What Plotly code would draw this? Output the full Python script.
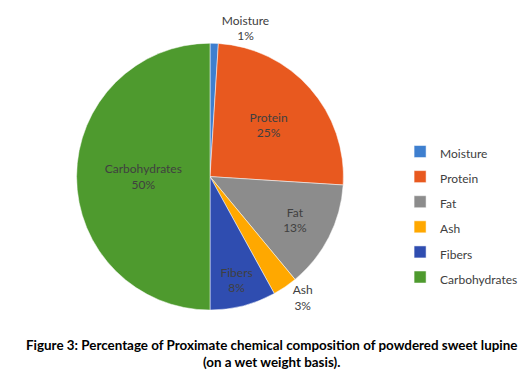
import plotly.graph_objects as go

labels = ["Moisture", "Protein", "Fat", "Ash", "Fibers", "Carbohydrates"]
values = [1, 25, 13, 3, 8, 50]
colors = ["#3E7FCF", "#E8591F", "#8C8C8C", "#FFA800", "#2F4DB0", "#4E9A2E"]
text_pos = ["outside", "inside", "inside", "outside", "inside", "inside"]

W, H = 527, 391
fig = go.Figure()
fig.add_trace(go.Pie(
    labels=[f"<span style='font-size:12px'>{l}</span>" for l in labels],
    values=values,
    sort=False,
    direction="clockwise",
    rotation=0,
    marker=dict(colors=colors, line=dict(color="white", width=0.5)),
    texttemplate=[f"{l}<br>{v}%" for l, v in zip(labels, values)],
    textposition=text_pos,
    insidetextorientation="horizontal",
    textfont=dict(family="Lato", size=12, color="#404040"),
    outsidetextfont=dict(family="Lato", size=12, color="#404040"),
    hoverinfo="label+percent",
    domain=dict(x=[61 / W, 343 / W], y=[1 - 297 / H, 1 - 15 / H]),
))
fig.update_layout(
    width=W, height=H,
    margin=dict(l=0, r=0, t=0, b=0),
    paper_bgcolor="white",
    plot_bgcolor="white",
    showlegend=True,
    legend=dict(x=0.744, y=1 - 196 / H, xanchor="left", yanchor="middle",
                font=dict(family="Lato", size=17, color="#404040"),
                bgcolor="rgba(0,0,0,0)"),
    annotations=[dict(
        text="<b>Figure 3: Percentage of Proximate chemical composition of powdered sweet lupine</b><br><b>(on a wet weight basis).</b>",
        x=0.5, y=1 - 343 / H, xref="paper", yref="paper",
        xanchor="center", yanchor="middle", showarrow=False,
        font=dict(family="Lato", size=13.4, color="black"),
    )],
)
fig.write_html("out.html")
